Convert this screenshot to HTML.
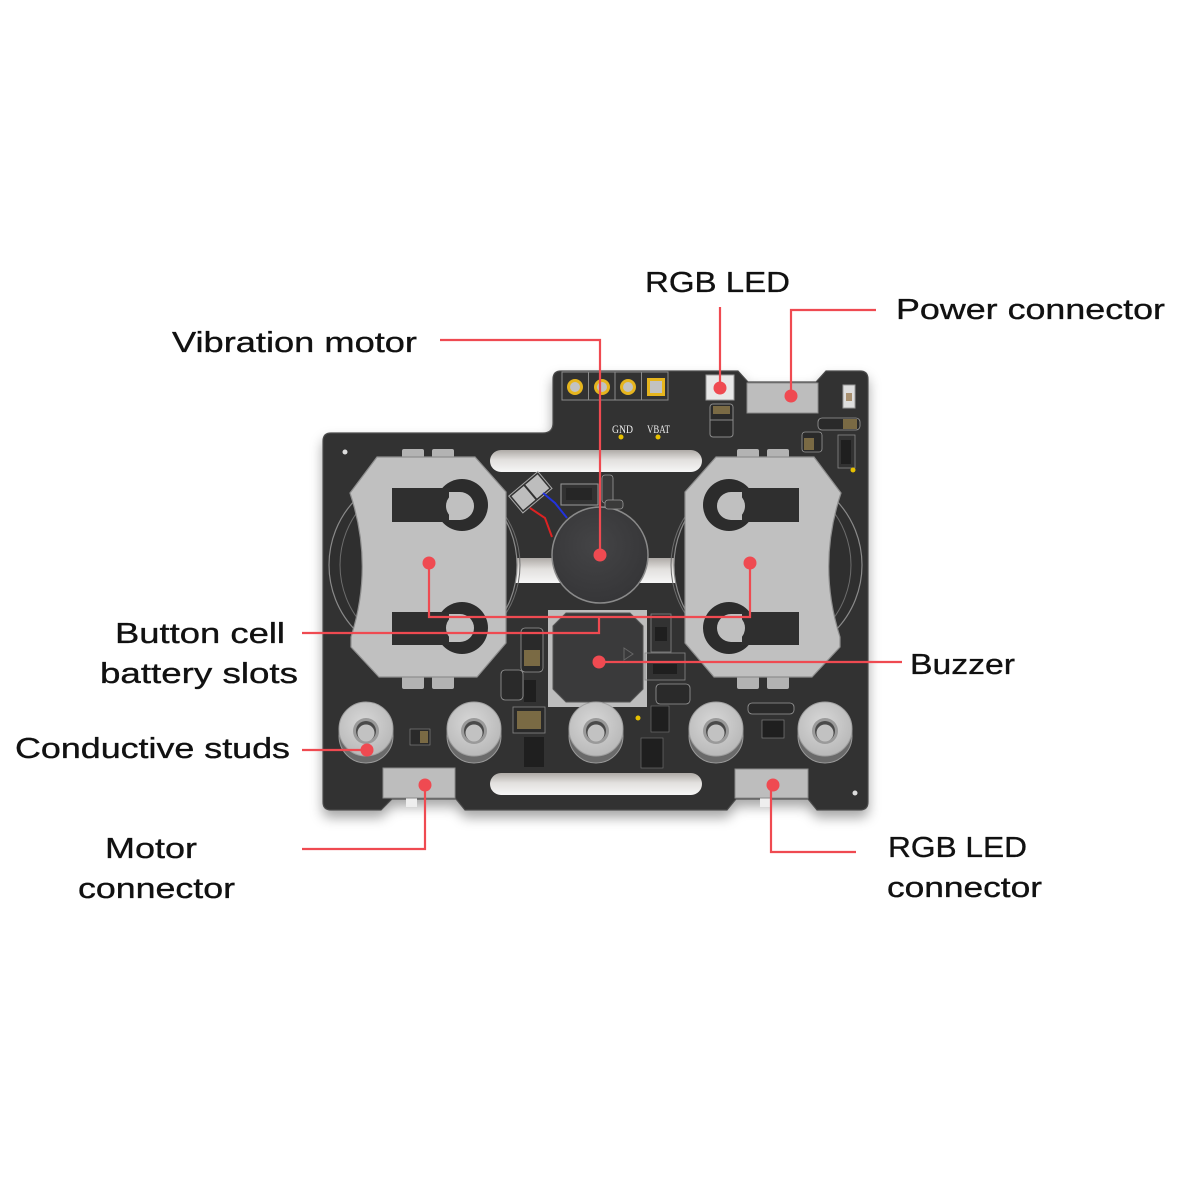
<!DOCTYPE html>
<html><head><meta charset="utf-8"><style>
html,body{margin:0;padding:0;background:#fff;}
svg{display:block;}
text.l{font-family:"Liberation Sans",sans-serif;font-size:29px;fill:#111;stroke:#111;stroke-width:0.35px;}
</style></head><body>
<svg width="1200" height="1200" viewBox="0 0 1200 1200" xmlns="http://www.w3.org/2000/svg">
<defs>
<filter id="sh" x="-10%" y="-10%" width="120%" height="130%">
<feDropShadow dx="0" dy="7" stdDeviation="6" flood-color="#000" flood-opacity="0.35"/>
</filter>
<linearGradient id="slotg" x1="0" y1="0" x2="0" y2="1">
<stop offset="0" stop-color="#aeaaa6"/><stop offset="0.45" stop-color="#e2e0de"/><stop offset="1" stop-color="#f6f6f6"/>
</linearGradient>
<radialGradient id="studg" cx="0.45" cy="0.4" r="0.6">
<stop offset="0" stop-color="#d8d8d8"/><stop offset="1" stop-color="#b9b9b9"/>
</radialGradient>
<radialGradient id="motg" cx="0.45" cy="0.4" r="0.6">
<stop offset="0" stop-color="#444446"/><stop offset="1" stop-color="#363638"/>
</radialGradient>
</defs>

<!-- board -->
<path filter="url(#sh)" fill="#313131" stroke="#4c4c4c" stroke-width="1.2" d="M331 433 H543 Q553 433 553 423 V379 Q553 371 561 371 H738 L748 382 H816 L826 371 H860 Q868 371 868 379 V802 Q868 810 860 810 H817 L808 799 H736 L727 810 H465 L456 799 H392 L381 810 H331 Q323 810 323 802 V441 Q323 433 331 433 Z"/>

<!-- slots -->
<rect x="490" y="450" width="212" height="22" rx="11" fill="url(#slotg)"/>
<rect x="490" y="773" width="212" height="22" rx="11" fill="url(#slotg)"/>
<rect x="500" y="558" width="190" height="25" fill="url(#slotg)"/>

<!-- coin cell outlines -->
<circle cx="423" cy="565" r="94" fill="#2f2f2f" stroke="#8a8a8a" stroke-width="1.2"/>
<circle cx="430" cy="565" r="90" fill="none" stroke="#6d6d6d" stroke-width="1"/>
<circle cx="768" cy="565" r="94" fill="#2f2f2f" stroke="#8a8a8a" stroke-width="1.2"/>
<circle cx="761" cy="565" r="90" fill="none" stroke="#6d6d6d" stroke-width="1"/>

<!-- left holder -->
<g id="holder">
<rect x="402" y="449" width="22" height="9" rx="2" fill="#b3b3b3"/>
<rect x="432" y="449" width="22" height="9" rx="2" fill="#b3b3b3"/>
<rect x="402" y="676" width="22" height="13" rx="2" fill="#b3b3b3"/>
<rect x="432" y="676" width="22" height="13" rx="2" fill="#b3b3b3"/>
<path d="M377 457 H475 L506 492 V643 L477 677 H379 L351 647 V637 Q374 565 350 493 Z" fill="#c0c0c0" stroke="#8e8e8e" stroke-width="1.2"/>
<circle cx="462" cy="505" r="26" fill="#2c2c2c"/>
<rect x="392" y="488" width="58" height="34" fill="#2f2f2f"/>
<rect x="449" y="492" width="11" height="28" fill="#c0c0c0"/>
<circle cx="460" cy="506" r="14" fill="#c0c0c0"/>
<circle cx="462" cy="628" r="26" fill="#2c2c2c"/>
<rect x="392" y="612" width="58" height="33" fill="#2f2f2f"/>
<rect x="449" y="614" width="11" height="28" fill="#c0c0c0"/>
<circle cx="460" cy="628" r="14" fill="#c0c0c0"/>
</g>
<use href="#holder" transform="translate(1191,0) scale(-1,1)"/>

<!-- motor -->
<circle cx="600" cy="555" r="48" fill="url(#motg)" stroke="#8a8a8a" stroke-width="1.5"/>
<g transform="rotate(-40 531 493)">
<rect x="512" y="481" width="38" height="22" fill="none" stroke="#aaa" stroke-width="1"/>
<rect x="514" y="483" width="16" height="18" fill="#bdbdbd"/>
<rect x="532" y="483" width="16" height="18" fill="#bdbdbd"/>
</g>
<path d="M543 493 L555 503 L567 518" stroke="#2233dd" stroke-width="2" fill="none"/>
<path d="M530 508 L545 518 L552 537" stroke="#dd2222" stroke-width="2" fill="none"/>
<rect x="561" y="484" width="37" height="21" fill="none" stroke="#999" stroke-width="1"/>
<rect x="566" y="488" width="26" height="12" fill="#262626"/>
<rect x="602" y="475" width="11" height="28" rx="3" fill="#3a3a3a" stroke="#999" stroke-width="0.8"/>
<rect x="605" y="500" width="18" height="9" rx="3" fill="#3a3a3a" stroke="#999" stroke-width="0.8"/>

<!-- buzzer -->
<rect x="548" y="610" width="99" height="97" fill="#bdbdbd"/>
<path d="M566 613 H630 L643 626 V689 L630 702 H566 L553 689 V626 Z" fill="#3a3a3b" stroke="#555" stroke-width="1"/>
<path d="M624 648 L633 654 L624 660 Z" fill="none" stroke="#666" stroke-width="1"/>

<!-- header pins -->
<rect x="562" y="372" width="106" height="28" fill="none" stroke="#8a8a8a" stroke-width="1"/>
<line x1="588.5" y1="372" x2="588.5" y2="400" stroke="#8a8a8a"/>
<line x1="615" y1="372" x2="615" y2="400" stroke="#8a8a8a"/>
<line x1="641.5" y1="372" x2="641.5" y2="400" stroke="#8a8a8a"/>
<circle cx="575" cy="387" r="8" fill="#e6b51e"/><circle cx="575" cy="387" r="5" fill="#c2c2c2"/>
<circle cx="602" cy="387" r="8" fill="#e6b51e"/><circle cx="602" cy="387" r="5" fill="#c2c2c2"/>
<circle cx="628" cy="387" r="8" fill="#e6b51e"/><circle cx="628" cy="387" r="5" fill="#c2c2c2"/>
<rect x="647" y="378" width="18" height="18" fill="#e6b51e"/><rect x="650" y="381" width="12" height="12" fill="#c2c2c2"/>
<text x="612" y="433" font-family="Liberation Serif,serif" font-size="12" fill="#eee" textLength="21" lengthAdjust="spacingAndGlyphs">GND</text>
<text x="647" y="433" font-family="Liberation Serif,serif" font-size="12" fill="#eee" textLength="23" lengthAdjust="spacingAndGlyphs">VBAT</text>
<circle cx="621" cy="437" r="2.5" fill="#e6c000"/>
<circle cx="658" cy="437" r="2.5" fill="#e6c000"/>

<!-- RGB LED & parts -->
<rect x="706" y="375" width="28" height="25" fill="#e8e8e8" stroke="#9a9a9a"/>
<rect x="710" y="404" width="23" height="33" rx="3" fill="#2a2a2a" stroke="#8a8a8a" stroke-width="1"/>
<rect x="713" y="406" width="17" height="8" fill="#7a6a44"/>
<line x1="710" y1="420" x2="733" y2="420" stroke="#8a8a8a"/>
<rect x="747" y="383" width="71" height="30" fill="#bdbdbd" stroke="#8a8a8a"/>
<rect x="843" y="385" width="12" height="23" fill="#dedede" stroke="#999"/>
<rect x="846" y="393" width="6" height="8" fill="#a89070"/>
<rect x="818" y="418" width="42" height="12" rx="4" fill="#2a2a2a" stroke="#999" stroke-width="0.8"/>
<rect x="843" y="419" width="14" height="10" fill="#7a6a44"/>
<rect x="802" y="432" width="20" height="20" rx="3" fill="#2a2a2a" stroke="#999" stroke-width="0.8"/>
<rect x="804" y="438" width="10" height="12" fill="#7a6a44"/>
<rect x="838" y="435" width="17" height="33" fill="none" stroke="#888" stroke-width="0.8"/>
<rect x="841" y="440" width="10" height="24" fill="#1f1f1f"/>
<circle cx="853" cy="470" r="2.5" fill="#e6c000"/>
<circle cx="345" cy="452" r="2.5" fill="#ddd"/>
<circle cx="855" cy="793" r="2.5" fill="#ddd"/>

<!-- middle small parts -->
<rect x="521" y="628" width="22" height="44" rx="4" fill="#2a2a2a" stroke="#999" stroke-width="0.8"/>
<rect x="524" y="650" width="16" height="16" fill="#7a6a44"/>
<rect x="501" y="670" width="22" height="30" rx="4" fill="#2a2a2a" stroke="#999" stroke-width="0.8"/>
<rect x="524" y="680" width="12" height="22" fill="#1f1f1f"/>
<rect x="513" y="707" width="32" height="26" fill="#2a2a2a" stroke="#888" stroke-width="0.8"/>
<rect x="517" y="711" width="24" height="18" fill="#7a6a44"/>
<rect x="524" y="737" width="20" height="30" fill="#1f1f1f"/>
<rect x="651" y="614" width="20" height="38" fill="none" stroke="#888" stroke-width="0.8"/>
<rect x="655" y="627" width="12" height="14" fill="#1f1f1f"/>
<rect x="645" y="653" width="40" height="27" fill="none" stroke="#888" stroke-width="0.8"/>
<rect x="653" y="664" width="24" height="10" fill="#1f1f1f"/>
<rect x="656" y="684" width="34" height="20" rx="4" fill="#2a2a2a" stroke="#999" stroke-width="0.8"/>
<rect x="651" y="706" width="18" height="26" fill="#1f1f1f" stroke="#777" stroke-width="0.6"/>
<rect x="641" y="738" width="22" height="30" fill="#1f1f1f" stroke="#777" stroke-width="0.6"/>
<circle cx="638" cy="718" r="2.5" fill="#e6c000"/>
<rect x="748" y="703" width="46" height="11" rx="4" fill="#2a2a2a" stroke="#999" stroke-width="0.8"/>
<rect x="762" y="720" width="22" height="18" fill="#1f1f1f" stroke="#888" stroke-width="0.6"/>
<rect x="410" y="729" width="20" height="16" fill="#2a2a2a" stroke="#888" stroke-width="0.6"/>
<rect x="420" y="731" width="8" height="12" fill="#7a6a44"/>

<!-- studs -->
<g id="studgrp">
<circle cx="366" cy="736" r="27" fill="#6a6a6a" stroke="#9a9a9a" stroke-width="1"/>
<circle cx="366" cy="729" r="27" fill="url(#studg)" stroke="#a0a0a0" stroke-width="1"/>
<circle cx="366" cy="731" r="13" fill="#9a9a9a"/>
<circle cx="366" cy="731" r="10" fill="#4a4a4a"/>
<circle cx="366" cy="733" r="8.5" fill="#c2c2c2"/>
</g>
<use href="#studgrp" transform="translate(108,0)"/>
<use href="#studgrp" transform="translate(230,0)"/>
<use href="#studgrp" transform="translate(350,0)"/>
<use href="#studgrp" transform="translate(459,0)"/>

<!-- bottom connectors -->
<rect x="406" y="797" width="11" height="10" fill="#eeeeee"/>
<rect x="383" y="768" width="72" height="30" fill="#bdbdbd" stroke="#8a8a8a"/>
<rect x="760" y="797" width="11" height="10" fill="#eeeeee"/>
<rect x="735" y="769" width="73" height="29" fill="#bdbdbd" stroke="#8a8a8a"/>

<!-- callout lines -->
<g stroke="#ef4a51" stroke-width="2.2" fill="none">
<path d="M440 340 H600 V555"/>
<path d="M720 307 V388"/>
<path d="M876 310 H791 V396"/>
<path d="M302 633 H599 V617"/>
<path d="M429 563 V617 H750 V563"/>
<path d="M599 662 H902"/>
<path d="M302 750 H367"/>
<path d="M302 849 H425 V785"/>
<path d="M856 852 H771 V785"/>
</g>
<g fill="#ef4a51">
<circle cx="600" cy="555" r="6.5"/>
<circle cx="720" cy="388" r="6.5"/>
<circle cx="791" cy="396" r="6.5"/>
<circle cx="429" cy="563" r="6.5"/>
<circle cx="750" cy="563" r="6.5"/>
<circle cx="599" cy="662" r="6.5"/>
<circle cx="367" cy="750" r="6.5"/>
<circle cx="425" cy="785" r="6.5"/>
<circle cx="773" cy="785" r="6.5"/>
</g>

<!-- labels -->
<text class="l" x="172" y="352" textLength="245" lengthAdjust="spacingAndGlyphs">Vibration motor</text>
<text class="l" x="645" y="292" textLength="145" lengthAdjust="spacingAndGlyphs">RGB LED</text>
<text class="l" x="896" y="319" textLength="269" lengthAdjust="spacingAndGlyphs">Power connector</text>
<text class="l" x="115" y="643" textLength="170" lengthAdjust="spacingAndGlyphs">Button cell</text>
<text class="l" x="100" y="683" textLength="198" lengthAdjust="spacingAndGlyphs">battery slots</text>
<text class="l" x="15" y="758" textLength="275" lengthAdjust="spacingAndGlyphs">Conductive studs</text>
<text class="l" x="910" y="674" textLength="105" lengthAdjust="spacingAndGlyphs">Buzzer</text>
<text class="l" x="105" y="858" textLength="92" lengthAdjust="spacingAndGlyphs">Motor</text>
<text class="l" x="78" y="898" textLength="157" lengthAdjust="spacingAndGlyphs">connector</text>
<text class="l" x="888" y="857" textLength="139" lengthAdjust="spacingAndGlyphs">RGB LED</text>
<text class="l" x="887" y="897" textLength="155" lengthAdjust="spacingAndGlyphs">connector</text>
</svg>
</body></html>
